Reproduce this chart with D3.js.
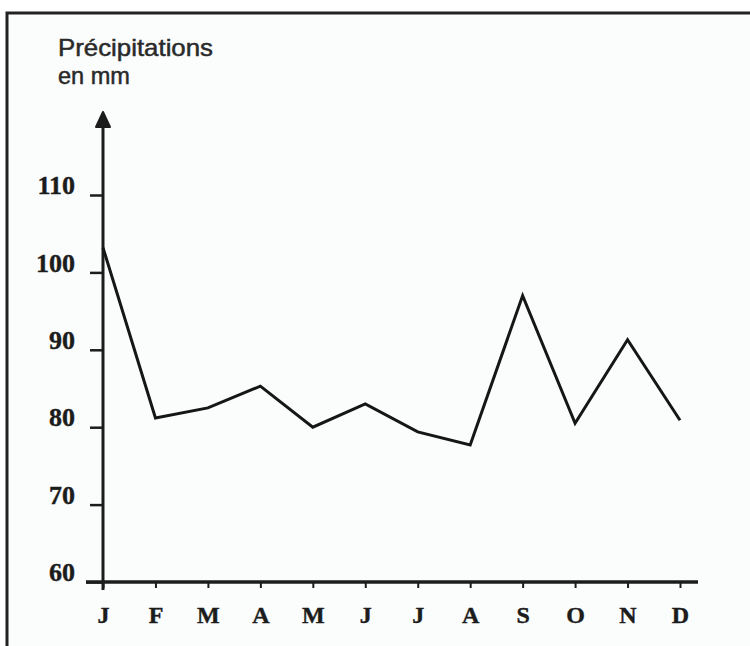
<!DOCTYPE html>
<html>
<head>
<meta charset="utf-8">
<script src="https://cdn.jsdelivr.net/npm/d3@7"></script>
<style>
  html, body { margin: 0; padding: 0; background: #ffffff; }
  svg { display: block; }
</style>
</head>
<body>
<svg id="chart" width="750" height="646"></svg>
<script>
// ---- data ----
const months = ["J", "F", "M", "A", "M", "J", "J", "A", "S", "O", "N", "D"];
const monthKeys = ["jan", "feb", "mar", "apr", "may", "jun", "jul", "aug", "sep", "oct", "nov", "dec"];
const precipitation = [103.2, 81.2, 82.5, 85.3, 80.0, 83.0, 79.4, 77.7, 97.0, 80.5, 91.3, 80.9];
const yTicks = [60, 70, 80, 90, 100, 110];
const titleLines = ["Précipitations", "en mm"];

// ---- layout ----
const svg = d3.select("#chart");
const ink = "#1c1c1c";

// page background + frame
svg.append("rect").attr("x", 0).attr("y", 0).attr("width", 750).attr("height", 646).attr("fill", "#ffffff");
svg.append("rect").attr("x", 7).attr("y", 13).attr("width", 760).attr("height", 660)
  .attr("fill", "#fbfdfd").attr("stroke", "#222").attr("stroke-width", 3);

const x = d3.scalePoint().domain(monthKeys).range([103, 680]);
const y = d3.scaleLinear().domain([60, 110]).range([582, 195]);

// title
const titleWidths = [155, 72];
svg.append("g").selectAll("text").data(titleLines).join("text")
  .attr("x", 58).attr("y", (d, i) => 56 + i * 28)
  .attr("font-family", "Liberation Sans, Arial, sans-serif")
  .attr("font-size", 24)
  .attr("textLength", (d, i) => titleWidths[i]).attr("lengthAdjust", "spacingAndGlyphs")
  .attr("fill", "#2a2a2a").attr("stroke", "#2a2a2a").attr("stroke-width", 0.5)
  .text(d => d);

// y axis
const yAxis = d3.axisLeft(y).tickValues(yTicks).tickSize(13).tickFormat(d3.format("d"));
const gy = svg.append("g").attr("transform", "translate(103,0)").call(yAxis);
gy.select(".domain").remove();
gy.selectAll(".tick line").attr("stroke", ink).attr("stroke-width", 2.5);
gy.selectAll(".tick text")
  .attr("x", -28).attr("dy", "-0.05em")
  .attr("font-family", "Liberation Serif, Times New Roman, serif")
  .attr("font-weight", "bold").attr("font-size", 26).attr("fill", ink)
  .attr("stroke", ink).attr("stroke-width", 0.4);
gy.selectAll(".tick").filter(d => d === 60).select("line").attr("x2", -17);

// y axis line with arrow
svg.append("line").attr("x1", 103).attr("x2", 103).attr("y1", 122).attr("y2", 590)
  .attr("stroke", ink).attr("stroke-width", 3);
svg.append("path")
  .attr("d", d3.line()([[103, 112], [110, 127], [96, 127]]) + "Z")
  .attr("fill", ink).attr("stroke", ink).attr("stroke-width", 2).attr("stroke-linejoin", "round");

// x axis
const xAxis = d3.axisBottom(x).tickSize(6).tickFormat((d, i) => months[i]);
const gx = svg.append("g").attr("transform", "translate(0,582)").call(xAxis);
gx.select(".domain").remove();
gx.selectAll(".tick line").attr("stroke", ink).attr("stroke-width", 2);
gx.selectAll(".tick text")
  .attr("y", 41).attr("dy", 0)
  .attr("font-family", "Liberation Serif, Times New Roman, serif")
  .attr("font-weight", "bold").attr("font-size", 24).attr("fill", ink)
  .attr("stroke", ink).attr("stroke-width", 0.4);
svg.append("line").attr("x1", 86).attr("x2", 698).attr("y1", 582).attr("y2", 582)
  .attr("stroke", ink).attr("stroke-width", 3.5);

// data line
const line = d3.line()
  .x((d, i) => x(monthKeys[i]))
  .y(d => y(d));
svg.append("path").datum(precipitation)
  .attr("d", line)
  .attr("fill", "none").attr("stroke", "#161616").attr("stroke-width", 3)
  .attr("stroke-linejoin", "miter");
</script>
</body>
</html>
